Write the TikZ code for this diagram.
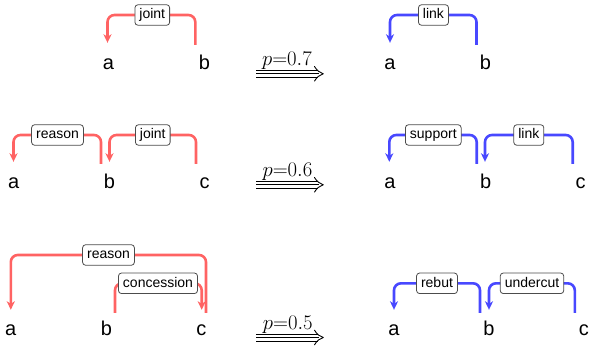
\documentclass[tikz,border=0pt]{standalone}
\usepackage[no-math]{fontspec}
\newfontfamily\helv{Liberation Sans}
\usetikzlibrary{arrows.meta,calc}
\definecolor{redarc}{RGB}{255,99,99}
\definecolor{bluearc}{RGB}{72,72,255}
\tikzset{
 letter/.style={font=\helv\fontsize{20}{24}\selectfont, inner sep=0pt, text height=14pt, text depth=0pt, anchor=base},
 lab/.style={draw=black!70, fill=white, rounded corners=3pt, line width=0.8pt, inner xsep=4.5pt, inner ysep=3.5pt, text height=10.5pt, text depth=3pt, font=\helv\fontsize{14}{16}\selectfont},
 arcline/.style={line width=2.6pt, rounded corners=7pt, -{Stealth[length=8.5pt,width=8pt,inset=2.5pt]}},
 redline/.style={arcline, draw=redarc},
 blueline/.style={arcline, draw=bluearc},
 plab/.style={font=\fontsize{20}{24}\selectfont, inner sep=0pt, anchor=base},
 triple/.style={line width=0.9pt},
}
\newcommand\triplearrow[1]{%
  \draw[triple] (256,#1) -- (318,#1);
  \draw[triple] (256,#1+3.5) -- (319,#1+3.5);
  \draw[triple] (256,#1+7) -- (318,#1+7);
  \draw[triple, line cap=round, line join=round] (314.5,#1-3.8) .. controls (317,#1+0.5) and (320,#1+2.5) .. (323.3,#1+3.5) .. controls (320,#1+4.5) and (317,#1+6.5) .. (314.5,#1+10.8);
}
\begin{document}
\begin{tikzpicture}[x=1pt,y=-1pt]
\useasboundingbox (0,0) rectangle (590,349);

% ---------- row 1 ----------
\node[letter] (a1) at (108.5,69) {a};
\node[letter] (b1) at (204.5,69) {b};
\coordinate (m1) at (152.3,15);
\draw[redline] ([xshift=-9.2pt,yshift=10pt]b1.north) |- (m1) -| ([xshift=-1pt,yshift=12pt]a1.north);
\node[lab] (l1) at (m1) {joint};

\node[plab] (p1) at (287,65.5) {$p{=}0.7$};
\triplearrow{70.3}

\node[letter] (ra1) at (390,69) {a};
\node[letter] (rb1) at (485.5,69) {b};
\coordinate (rm1) at (433.5,15);
\draw[blueline] ([xshift=-9pt,yshift=10pt]rb1.north) |- (rm1) -| ([yshift=12pt]ra1.north);
\node[lab] (rl1) at (rm1) {link};

% ---------- row 2 ----------
\node[letter] (a2) at (13.8,188) {a};
\node[letter] (b2) at (109.5,188) {b};
\node[letter] (c2) at (204.7,188) {c};
\coordinate (m2a) at (57.5,135);
\coordinate (m2b) at (152.8,135);
\draw[redline] ([xshift=-8.5pt,yshift=10pt]b2.north) |- (m2a) -| ([xshift=-0.3pt,yshift=12pt]a2.north);
\draw[redline] ([xshift=-8.7pt,yshift=10pt]c2.north) |- (m2b) -| ([yshift=12pt]b2.north);
\node[lab] (l2a) at (m2a) {reason};
\node[lab] (l2b) at (m2b) {joint};

\node[plab] (p2) at (287.5,176.5) {$p{=}0.6$};
\triplearrow{181.3}

\node[letter] (ra2) at (390,188) {a};
\node[letter] (rb2) at (485.7,188) {b};
\node[letter] (rc2) at (580.7,188) {c};
\coordinate (rm2a) at (433.3,135);
\coordinate (rm2b) at (528.8,135);
\draw[blueline] ([xshift=-9pt,yshift=10pt]rb2.north) |- (rm2a) -| ([xshift=-0.7pt,yshift=12pt]ra2.north);
\draw[blueline] ([xshift=-8pt,yshift=10pt]rc2.north) |- (rm2b) -| ([xshift=-0.7pt,yshift=12pt]rb2.north);
\node[lab] (rl2a) at (rm2a) {support};
\node[lab] (rl2b) at (rm2b) {link};

% ---------- row 3 ----------
\node[letter] (a3) at (10.8,335) {a};
\node[letter] (b3) at (106.5,335) {b};
\node[letter] (c3) at (201.3,335) {c};
\coordinate (m3a) at (108.5,255);
\coordinate (m3b) at (158,283.3);
\draw[redline] ([xshift=4.7pt,yshift=8pt]c3.north) |- (m3a) -| ([yshift=11pt]a3.north);
\draw[redline] ([xshift=8.5pt,yshift=8pt]b3.north) |- (m3b) -| ([xshift=0.4pt,yshift=11pt]c3.north);
\node[lab] (l3a) at (m3a) {reason};
\node[lab] (l3b) at (m3b) {concession};

\node[plab] (p3) at (287.8,329) {$p{=}0.5$};
\triplearrow{334}

\node[letter] (ra3) at (394,335) {a};
\node[letter] (rb3) at (489,335) {b};
\node[letter] (rc3) at (583.8,335) {c};
\coordinate (rm3a) at (437,283.3);
\coordinate (rm3b) at (532,283.3);
\draw[blueline] ([xshift=-9pt,yshift=8pt]rb3.north) |- (rm3a) -| ([yshift=11pt]ra3.north);
\draw[blueline] ([xshift=-9pt,yshift=8pt]rc3.north) |- (rm3b) -| ([yshift=11pt]rb3.north);
\node[lab] (rl3a) at (rm3a) {rebut};
\node[lab] (rl3b) at (rm3b) {undercut};
\end{tikzpicture}
\end{document}
